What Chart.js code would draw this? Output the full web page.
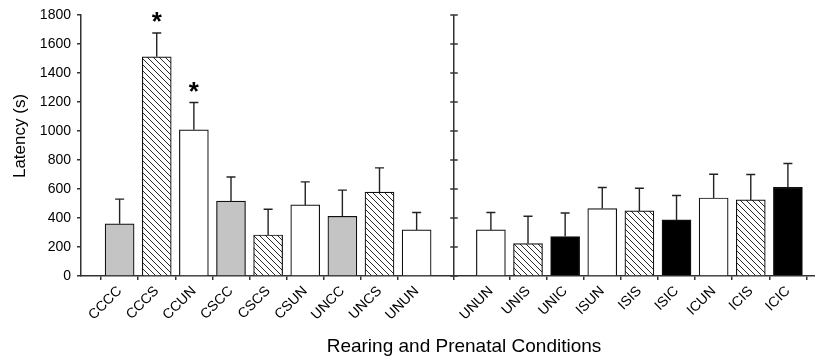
<!DOCTYPE html>
<html>
<head>
<meta charset="utf-8">
<script src="https://cdn.jsdelivr.net/npm/chart.js@4.4.0/dist/chart.umd.min.js"></script>
<style>
html, body { margin: 0; padding: 0; background: #fff; overflow: hidden; }
</style>
</head>
<body>
<canvas id="c1" width="815" height="362"></canvas>
<script>
"use strict";

// drawing order, '' is the gap between the two panels
let conditions = ['CCCC', 'CCCS', 'CCUN', 'CSCC', 'CSCS', 'CSUN', 'UNCC', 'UNCS', 'UNUN', '',
    'UNUN', 'UNIS', 'UNIC', 'ISUN', 'ISIS', 'ISIC', 'ICUN', 'ICIS', 'ICIC'];
let latency = [360, 1512, 1008, 516, 283, 490, 412, 578, 318, null,
    318, 224, 272, 465, 449, 387, 538, 525, 612];
let semUp = [170, 164, 189, 167, 177, 159, 180, 168, 120, null,
    120, 188, 163, 145, 156, 168, 164, 175, 164];
let starred = ['CCCS', 'CCUN'];
let yMin = 0, yMax = 1800, yStep = 200;

let FONT = "'Liberation Sans', Arial, Helvetica, sans-serif";

function hatch() {
    let p = document.createElement('canvas');
    p.width = 6; p.height = 6;
    let g = p.getContext('2d');
    g.fillStyle = '#fff';
    g.fillRect(0, 0, 6, 6);
    g.strokeStyle = '#2a2a2a';
    g.lineWidth = 1;
    g.beginPath();
    g.moveTo(-1, -1); g.lineTo(7, 7);
    g.moveTo(-1, 5); g.lineTo(1, 7);
    g.moveTo(5, -1); g.lineTo(7, 1);
    g.stroke();
    return g.createPattern(p, 'repeat');
}
let stripes = hatch();

// fill comes from the prenatal part of the code (last two letters)
function fillFor(c) {
    let pre = c.slice(2);
    if (pre == 'CC') return '#c4c4c4';
    if (pre == 'IC') return '#000';
    if (pre == 'UN') return '#fff';
    return stripes;
}

let points = [];
let fills = [];
conditions.forEach((c, i) => {
    if (c == '') return;
    points.push({ x: i + 1, y: latency[i] });
    fills.push(fillFor(c));
});
let tickPos = points.map(p => p.x);

let extras = {
    id: 'extras',
    afterDatasetsDraw(chart) {
        let ctx = chart.ctx, xs = chart.scales.x, ys = chart.scales.y;
        ctx.save();
        // error bars (upper only)
        ctx.strokeStyle = '#222';
        ctx.lineWidth = 1.4;
        conditions.forEach((c, i) => {
            if (c == '') return;
            let x = xs.getPixelForValue(i + 1);
            let y0 = ys.getPixelForValue(latency[i]);
            let y1 = ys.getPixelForValue(latency[i] + semUp[i]);
            ctx.beginPath();
            ctx.moveTo(x, y0); ctx.lineTo(x, y1);
            ctx.moveTo(x - 4.5, y1); ctx.lineTo(x + 4.5, y1);
            ctx.stroke();
            if (i < 9 && starred.includes(c)) {
                ctx.fillStyle = '#000';
                ctx.font = 'bold 26px ' + FONT;
                ctx.textAlign = 'center';
                ctx.textBaseline = 'alphabetic';
                ctx.fillText('*', x, y1 - 2.5);
            }
        });
        // second panel axis
        let xg = xs.getPixelForValue(10);
        ctx.strokeStyle = '#333';
        ctx.lineWidth = 1.5;
        ctx.beginPath();
        ctx.moveTo(xg, ys.top); ctx.lineTo(xg, ys.bottom);
        for (let v = yMin; v <= yMax; v += yStep) {
            let y = ys.getPixelForValue(v);
            ctx.moveTo(xg - 3.5, y); ctx.lineTo(xg + 4, y);
        }
        ctx.stroke();
        ctx.restore();
    },
    afterDraw(chart) {
        let ctx = chart.ctx;
        ctx.save();
        ctx.fillStyle = '#000';
        ctx.font = '19px ' + FONT;
        ctx.textAlign = 'center';
        ctx.textBaseline = 'alphabetic';
        ctx.fillText('Rearing and Prenatal Conditions', 464, 352);
        ctx.translate(25, 136);
        ctx.rotate(-Math.PI / 2);
        ctx.font = '17px ' + FONT;
        ctx.fillText('Latency (s)', 0, 0);
        ctx.restore();
    }
};

let c1 = document.querySelector('#c1');
let chart1 = new Chart(c1, {
    type: 'bar',
    data: {
        datasets: [{
            data: points,
            backgroundColor: fills,
            borderColor: '#111',
            borderWidth: 1.2,
            borderSkipped: 'bottom',
            barThickness: 29,
        }],
    },
    options: {
        responsive: false,
        animation: false,
        devicePixelRatio: 1,
        layout: { padding: { top: 15, left: 0, right: 0, bottom: 0 } },
        plugins: { legend: { display: false }, tooltip: { enabled: false } },
        scales: {
            x: {
                type: 'linear',
                offset: false,
                min: -0.04,
                max: 19.73,
                afterBuildTicks: a => { a.ticks = tickPos.map(v => ({ value: v })); },
                afterFit: s => { s.height = 86; s.paddingLeft = 0; s.paddingRight = 0; },
                ticks: {
                    autoSkip: false,
                    maxRotation: 45,
                    minRotation: 45,
                    padding: 3,
                    color: '#000',
                    font: { family: FONT, size: 14 },
                    callback: v => conditions[v - 1],
                },
                grid: { drawOnChartArea: false, drawTicks: true, tickLength: 4, color: '#333', lineWidth: 1.5 },
                border: { display: true, color: '#333', width: 1.5 },
            },
            y: {
                min: yMin,
                max: yMax,
                afterFit: s => { s.width = 81; },
                ticks: {
                    stepSize: yStep,
                    padding: 6,
                    color: '#000',
                    font: { family: FONT, size: 14 },
                    callback: v => String(v),
                },
                grid: { drawOnChartArea: false, drawTicks: true, tickLength: 4, color: '#333', lineWidth: 1.5 },
                border: { display: true, color: '#333', width: 1.5 },
            },
        },
    },
    plugins: [extras],
});
</script>
</body>
</html>
